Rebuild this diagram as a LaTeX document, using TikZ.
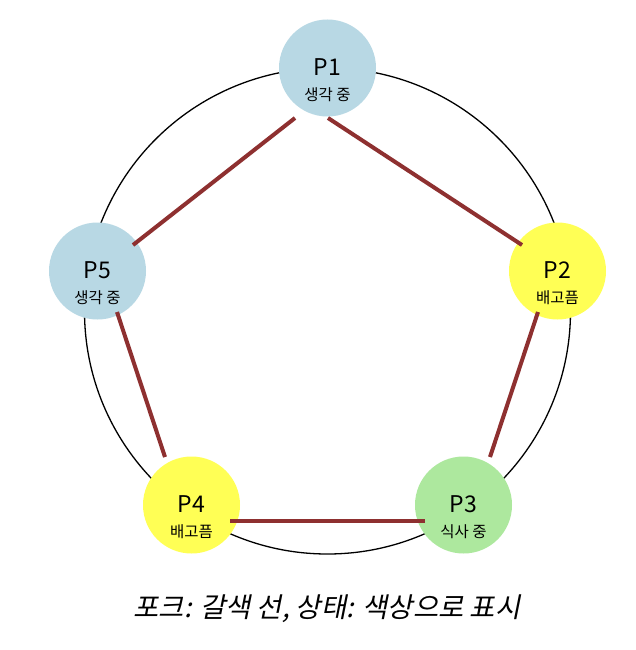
\documentclass[tikz,border=0pt]{standalone}
\usepackage{fontspec}
\setmainfont{Noto Sans CJK KR}
\newfontfamily\cjkit[FakeSlant=0.2]{Noto Sans CJK KR}
\definecolor{thinkc}{HTML}{B8D8E4}
\definecolor{hungryc}{HTML}{FFFF55}
\definecolor{eatc}{HTML}{ADE89E}
\definecolor{forkc}{HTML}{8E3030}
\tikzset{
  phil/.style={circle, minimum size=97pt, inner sep=0pt, draw=none},
  plabel/.style={font=\fontsize{23}{23}\selectfont, inner sep=0pt},
  slabel/.style={font=\fontsize{15.5}{15.5}\selectfont, inner sep=0pt},
  fork/.style={draw=forkc, line width=4pt},
}
\begin{document}
\begin{tikzpicture}[x=1pt,y=-1pt]
\useasboundingbox (0,0) rectangle (635,650);
\fill[white] (0,0) rectangle (635,650);
\coordinate (c) at (327.5,311);
\draw[line width=1.3pt] (c) circle[radius=243];
\node[phil, fill=thinkc] (p1) at (327.5,68) {};
\node[phil, fill=hungryc] (p2) at (557.5,271) {};
\node[phil, fill=eatc] (p3) at (463.5,505) {};
\node[phil, fill=hungryc] (p4) at (191.5,505) {};
\node[phil, fill=thinkc] (p5) at (97.5,271) {};
\foreach \n/\t/\s in {p1/P1/생각 중, p2/P2/배고픔, p3/P3/식사 중, p4/P4/배고픔, p5/P5/생각 중}{
  \node[plabel] (\n t) at ([yshift=1pt]\n.center) {\t};
  \node[slabel] (\n s) at ([yshift=-27pt]\n.center) {\s};
}
\coordinate (f1a) at (295,118);
\coordinate (f1b) at (133,245);
\coordinate (f2a) at (328,118);
\coordinate (f2b) at (522,245);
\coordinate (f3a) at (538,312);
\coordinate (f3b) at (490,457);
\coordinate (f4a) at (425,521);
\coordinate (f4b) at (230,521);
\coordinate (f5a) at (165,457);
\coordinate (f5b) at (117,312);
\draw[fork] (f1a) -- (f1b);
\draw[fork] (f2a) -- (f2b);
\draw[fork] (f3a) -- (f3b);
\draw[fork] (f4a) -- (f4b);
\draw[fork] (f5a) -- (f5b);
\node[font=\cjkit\fontsize{27.5}{27.5}\selectfont, inner sep=0pt] (title) at (327,609) {포크: 갈색 선, 상태: 색상으로 표시};
\end{tikzpicture}
\end{document}
